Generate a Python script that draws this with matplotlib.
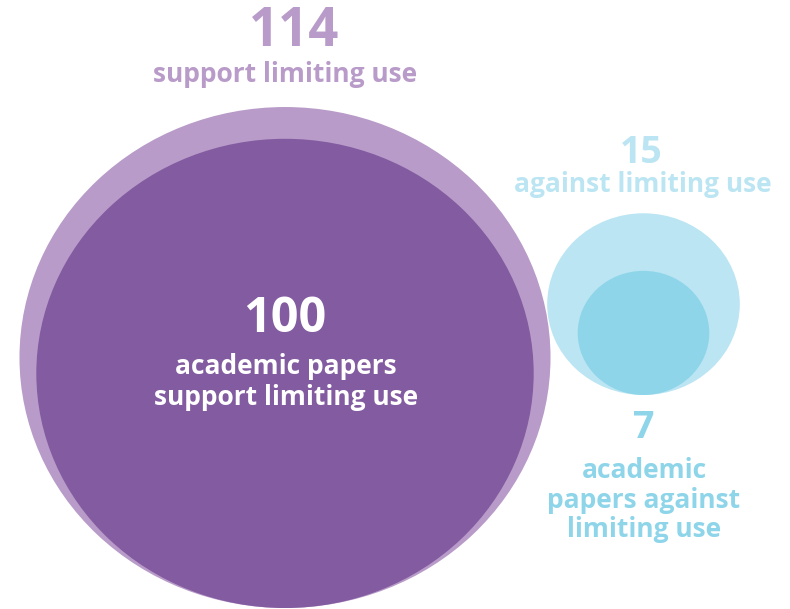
import matplotlib.pyplot as plt
from matplotlib.patches import Ellipse
import numpy as np

plt.rcParams['font.family'] = ['Open Sans', 'DejaVu Sans']

# data
groups = ['support', 'against']
totals = [114, 15]
academic = [100, 7]
total_labels = ['support limiting use', 'against limiting use']
academic_labels = ['academic papers\nsupport limiting use', 'academic\npapers against\nlimiting use']

light_cols = ['#B89BC8', '#BBE5F2']
dark_cols = ['#825BA0', '#8ED5EA']

# layout (pixels)
k = 23.46          # px per sqrt(value), vertical
xstretch = 1.06    # picture is a bit wider than tall
cx = [285, 643.5]
base_y = [608, 395]

fig = plt.figure(figsize=(7.9, 6.09), dpi=100)
ax = fig.add_axes([0, 0, 1, 1])
ax.set_xlim(0, 790)
ax.set_ylim(609, 0)
ax.axis('off')

for i in range(len(groups)):
    for val, col in [(totals[i], light_cols[i]), (academic[i], dark_cols[i])]:
        r = k * np.sqrt(val)
        ax.add_patch(Ellipse((cx[i], base_y[i] - r), 2 * r * xstretch, 2 * r,
                             facecolor=col, edgecolor='none'))

# labels
ax.text(294, 32, str(totals[0]), color=light_cols[0], fontsize=38, fontweight='bold',
        ha='center', va='center')
ax.text(285, 74, total_labels[0], color=light_cols[0], fontsize=19, fontweight='bold',
        ha='center', va='center')

ax.text(285, 319, str(academic[0]), color='white', fontsize=35, fontweight='bold',
        ha='center', va='center')
ax.text(286, 382, academic_labels[0], color='white', fontsize=19, fontweight='bold',
        ha='center', va='center', linespacing=1.15)

ax.text(641, 153, str(totals[1]), color=light_cols[1], fontsize=27, fontweight='bold',
        ha='center', va='center')
ax.text(643, 184, total_labels[1], color=light_cols[1], fontsize=19, fontweight='bold',
        ha='center', va='center')

ax.text(644, 428, str(academic[1]), color=dark_cols[1], fontsize=27, fontweight='bold',
        ha='center', va='center')
ax.text(644, 500, academic_labels[1], color=dark_cols[1], fontsize=19, fontweight='bold',
        ha='center', va='center', linespacing=1.1)

fig.savefig('out.png', dpi=100)
